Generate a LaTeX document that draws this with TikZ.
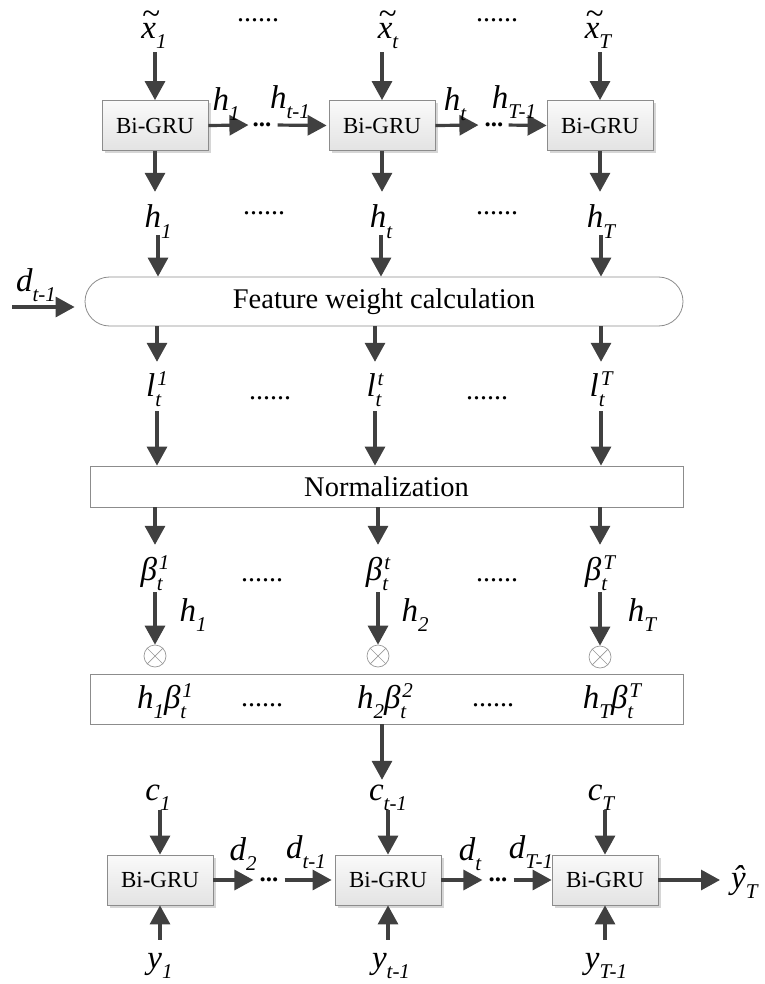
\documentclass[tikz,border=0pt]{standalone}
\usepackage{fontspec}
\setmainfont{Liberation Serif}
\usetikzlibrary{arrows.meta,shadows}

\definecolor{arrowgray}{HTML}{404040}
\definecolor{boxline}{HTML}{8C8C8C}

% sub- and superscripts for the italic labels
\newcommand{\sbs}[1]{\raisebox{-10pt}{\fontsize{21}{21}\selectfont\itshape #1}}
\newcommand{\sps}[1]{\raisebox{11pt}{\fontsize{21}{21}\selectfont\itshape #1}}
\newcommand{\sbsp}[2]{\makebox[0pt][l]{\sbs{#1}}\kern2pt\sps{#2}}
\newcommand{\tildex}{\makebox[0pt][l]{\raisebox{14pt}{\upshape\kern1pt\char"007E}}x}

\tikzset{
  arr/.style={draw=arrowgray, line width=3.2pt, -{Triangle[length=19pt,width=20pt]}},
  grubox/.style={draw=boxline, line width=0.8pt, minimum width=106pt, minimum height=50pt,
    top color=black!2, bottom color=black!11, inner sep=0pt,
    drop shadow={shadow xshift=3pt, shadow yshift=-3pt, fill=black!16, opacity=1},
    font=\fontsize{23}{27}\selectfont},
  bar/.style={draw=boxline, line width=0.8pt, fill=white, inner sep=0pt,
    font=\fontsize{28.5}{32}\selectfont},
  lbl/.style={font=\fontsize{33}{36}\selectfont\itshape, inner sep=0pt,
    text height=20pt, text depth=6pt, anchor=base},
  dots/.style={font=\fontsize{28}{30}\selectfont, inner sep=0pt},
  hdots/.style={font=\fontsize{25}{27}\selectfont\bfseries, inner sep=0pt},
  otimes/.style={circle, draw=black!40, line width=0.7pt, minimum size=22pt, inner sep=0pt},
}

\begin{document}
\begin{tikzpicture}[x=1pt,y=-1pt]
\useasboundingbox (0,0) rectangle (764,984);

% ---------- encoder: top Bi-GRU chain ----------
\node[grubox] (g1) at (155,125.5) {Bi-GRU};
\node[grubox] (g2) at (382,125.5) {Bi-GRU};
\node[grubox] (g3) at (600,125.5) {Bi-GRU};

\node[lbl] (x1) at (154,39) {\tildex\sbs{1}};
\node[lbl] (xt) at (388,39) {\tildex\sbs{t}};
\node[lbl] (xT) at (598,39) {\tildex\sbs{T}};
\node[dots] (xd1) at (258,20) {......};
\node[dots] (xd2) at (497,20) {......};

\draw[arr, shorten <=7pt] (x1.south -| g1) -- (g1.north);
\draw[arr, shorten <=7pt] (xt.south -| g2) -- (g2.north);
\draw[arr, shorten <=7pt] (xT.south -| g3) -- (g3.north);

\node[hdots] (td1) at (262,125) {...};
\node[hdots] (td2) at (494,125) {...};
\draw[arr, shorten >=4pt] (g1.east) -- (td1.west);
\draw[arr, shorten <=6pt, shorten >=2pt] (td1.east) -- (g2.west);
\draw[arr, shorten >=6pt] (g2.east) -- (td2.west);
\draw[arr, shorten <=5pt] (td2.east) -- (g3.west);

\node[lbl] (th1) at (226,111) {h\sbs{1}};
\node[lbl] (th2) at (290,109) {h\sbs{t-1}};
\node[lbl] (th3) at (455,111) {h\sbs{t}};
\node[lbl] (th4) at (514,109) {h\sbs{T-1}};

% ---------- hidden states ----------
\node[lbl] (h1) at (158,228) {h\sbs{1}};
\node[lbl] (ht) at (381,228) {h\sbs{t}};
\node[lbl] (hT) at (601,228) {h\sbs{T}};
\node[dots] (hd1) at (264,213) {......};
\node[dots] (hd2) at (497,213) {......};

\draw[arr, shorten >=16pt] (g1.south) -- (g1.south |- h1.north);
\draw[arr, shorten >=16pt] (g2.south) -- (g2.south |- ht.north);
\draw[arr, shorten >=16pt] (g3.south) -- (g3.south |- hT.north);

% ---------- feature weight calculation ----------
\node[bar, rounded corners=24.5pt, minimum width=598pt, minimum height=49pt]
  (fw) at (384,301.5) {Feature weight calculation};

\draw[arr, shorten <=1pt] (h1.south) -- (h1.south |- fw.north);
\draw[arr, shorten <=1pt] (ht.south) -- (ht.south |- fw.north);
\draw[arr, shorten <=1pt] (hT.south) -- (hT.south |- fw.north);

\node[lbl] (dp) at (36,291) {d\sbs{t-1}};
\coordinate (din) at (12,307);
\draw[arr, shorten >=10pt] (din) -- (din -| fw.west);

% ---------- scores ----------
\node[lbl] (l1) at (157,396) {l\sbsp{t}{1}};
\node[lbl] (lt) at (375,396) {l\sbsp{t}{t}};
\node[lbl] (lT) at (601,396) {l\sbsp{t}{T}};
\node[dots] (ld1) at (270,398) {......};
\node[dots] (ld2) at (487,398) {......};

\draw[arr, shorten >=14pt] (l1.north |- fw.south) -- (l1.north);
\draw[arr, shorten >=14pt] (lt.north |- fw.south) -- (lt.north);
\draw[arr, shorten >=14pt] (lT.north |- fw.south) -- (lT.north);

% ---------- normalization ----------
\node[bar, minimum width=593pt, minimum height=41pt] (nb) at (386.5,486.5) {Normalization};

\draw[arr, shorten <=9pt] (l1.south) -- (l1.south |- nb.north);
\draw[arr, shorten <=9pt] (lt.south) -- (lt.south |- nb.north);
\draw[arr, shorten <=9pt] (lT.south) -- (lT.south |- nb.north);

% ---------- attention weights ----------
\node[lbl] (b1) at (155,580) {β\sbsp{t}{1}};
\node[lbl] (bt) at (378,580) {β\sbsp{t}{t}};
\node[lbl] (bT) at (600,580) {β\sbsp{t}{T}};
\node[dots] (bd1) at (262,580) {......};
\node[dots] (bd2) at (497,580) {......};

\draw[arr, shorten >=15pt] (b1.north |- nb.south) -- (b1.north);
\draw[arr, shorten >=15pt] (bt.north |- nb.south) -- (bt.north);
\draw[arr, shorten >=15pt] (bT.north |- nb.south) -- (bT.north);

\node[otimes] (m1) at (155,656) {};
\node[otimes] (mt) at (378,656) {};
\node[otimes] (mT) at (600,657) {};
\foreach \m in {m1,mt,mT}{
  \draw[black!40, line width=0.7pt] (\m.north west) -- (\m.south east);
  \draw[black!40, line width=0.7pt] (\m.north east) -- (\m.south west);
}

\draw[arr, shorten <=6pt] (b1.south) -- (m1.north);
\draw[arr, shorten <=6pt] (bt.south) -- (mt.north);
\draw[arr, shorten <=6pt] (bT.south) -- (mT.north);

\node[lbl] (mh1) at (193,621) {h\sbs{1}};
\node[lbl] (mh2) at (415,621) {h\sbs{2}};
\node[lbl] (mhT) at (642,621) {h\sbs{T}};

% ---------- weighted features ----------
\node[bar, minimum width=593pt, minimum height=50pt] (pb) at (386.5,699) {};
\node[lbl] (p1) at (165,708) {h\sbs{1}β\sbsp{t}{1}};
\node[lbl] (p2) at (385,708) {h\sbs{2}β\sbsp{t}{2}};
\node[lbl] (pT) at (612,708) {h\sbs{T}β\sbsp{t}{T}};
\node[dots] (pd1) at (262,705) {......};
\node[dots] (pd2) at (493,705) {......};

% ---------- decoder: bottom Bi-GRU chain ----------
\node[lbl] (c1) at (158,800) {c\sbs{1}};
\node[lbl] (ct) at (388,800) {c\sbs{t-1}};
\node[lbl] (cT) at (601,800) {c\sbs{T}};

\draw[arr] (pb.south -| 382,0) -- (382,0 |- ct.north);

\node[grubox] (e1) at (160,880) {Bi-GRU};
\node[grubox] (e2) at (388,880) {Bi-GRU};
\node[grubox] (e3) at (605,880) {Bi-GRU};

\draw[arr, shorten <=4pt] (c1.south -| e1) -- (e1.north);
\draw[arr, shorten <=4pt] (ct.south -| e2) -- (e2.north);
\draw[arr, shorten <=4pt] (cT.south -| e3) -- (e3.north);

\node[hdots] (ed1) at (269,880) {...};
\node[hdots] (ed2) at (498,880) {...};
\draw[arr, shorten >=6pt] (e1.east) -- (ed1.west);
\draw[arr, shorten <=6pt, shorten >=3pt] (ed1.east) -- (e2.west);
\draw[arr, shorten >=6pt] (e2.east) -- (ed2.west);
\draw[arr, shorten <=6pt] (ed2.east) -- (e3.west);

\node[lbl] (dd1) at (243,860) {d\sbs{2}};
\node[lbl] (dd2) at (306,858) {d\sbs{t-1}};
\node[lbl] (dd3) at (470,860) {d\sbs{t}};
\node[lbl] (dd4) at (531,858) {d\sbs{T-1}};

\node[lbl, anchor=base west] (yh) at (731,888) {\^{y}\sbs{T}};
\draw[arr, shorten >=11pt] (e3.east) -- (e3.east -| yh.west);

\node[lbl] (y1) at (160,968) {y\sbs{1}};
\node[lbl] (yt) at (391,968) {y\sbs{t-1}};
\node[lbl] (yT) at (606,968) {y\sbs{T-1}};

\draw[arr, shorten <=8pt] (y1.north -| e1) -- (e1.south);
\draw[arr, shorten <=8pt] (yt.north -| e2) -- (e2.south);
\draw[arr, shorten <=8pt] (yT.north -| e3) -- (e3.south);
\end{tikzpicture}
\end{document}
